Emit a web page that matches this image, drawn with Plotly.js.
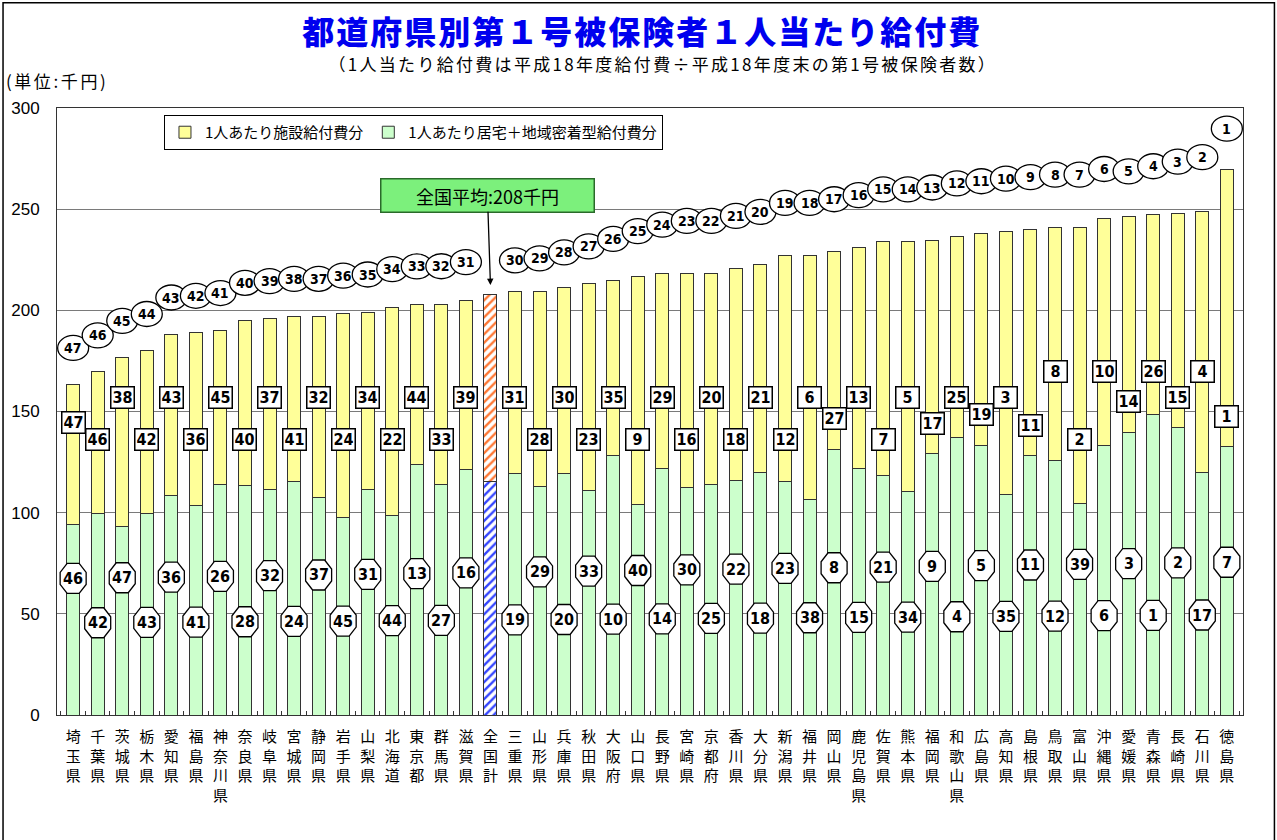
<!DOCTYPE html>
<html><head><meta charset="utf-8">
<script src="https://cdn.plot.ly/plotly-3.0.1.min.js"></script>
<style>
html,body{margin:0;padding:0;background:#fff}
#chart{width:1277px;height:840px}
#chart .gtitle{letter-spacing:2px}
#chart g.annotation[data-index="0"] text{letter-spacing:2.3px}
#chart g.annotation[data-index="1"] text{letter-spacing:2.6px}
</style>
</head><body><div id="chart"></div>
<script>
// ---------------- data ----------------
const categories = ['埼玉県','千葉県','茨城県','栃木県','愛知県','福島県','神奈川県','奈良県','岐阜県','宮城県','静岡県','岩手県','山梨県','北海道','東京都','群馬県','滋賀県','全国計','三重県','山形県','兵庫県','秋田県','大阪府','山口県','長野県','宮崎県','京都府','香川県','大分県','新潟県','福井県','岡山県','鹿児島県','佐賀県','熊本県','福岡県','和歌山県','広島県','高知県','島根県','鳥取県','富山県','沖縄県','愛媛県','青森県','長崎県','石川県','徳島県'];
// 1人あたり居宅＋地域密着型給付費分 (千円)
const homeCost = [94.4,99.6,93.0,99.4,108.5,103.3,114.0,113.5,111.3,115.4,107.7,97.5,111.5,98.8,123.9,113.8,121.4,115.6,119.4,113.1,119.2,110.8,128.3,104.0,121.9,112.5,114.1,116.0,119.8,115.5,106.4,131.3,121.6,118.5,110.5,129.3,137.2,133.4,109.0,128.1,125.9,104.6,133.2,139.7,148.7,142.1,119.9,132.6];
// 1人あたり施設給付費分 (千円)
const facilityCost = [69.0,70.0,83.7,80.6,79.6,85.6,76.2,81.7,84.7,81.6,89.3,101.0,87.5,102.8,79.0,89.1,83.5,92.4,89.8,96.1,91.9,102.3,86.6,112.9,96.3,105.7,104.1,104.7,102.9,111.6,120.7,97.6,109.3,115.3,123.3,105.4,99.5,104.4,130.1,111.7,115.2,136.5,112.4,106.5,98.5,105.9,128.8,137.2];
const totalRank = [47,46,45,44,43,42,41,40,39,38,37,36,35,34,33,32,31,null,30,29,28,27,26,25,24,23,22,21,20,19,18,17,16,15,14,13,12,11,10,9,8,7,6,5,4,3,2,1];
const facilityRank = [47,46,38,42,43,36,45,40,37,41,32,24,34,22,44,33,39,null,31,28,30,23,35,9,29,16,20,18,21,12,6,27,13,7,5,17,25,19,3,11,8,2,10,14,26,15,4,1];
const homeRank = [46,42,47,43,36,41,26,28,32,24,37,45,31,44,13,27,16,null,19,29,20,33,10,40,14,30,25,22,18,23,38,8,15,21,34,9,4,5,35,11,12,39,6,3,1,2,17,7];
const seriesNames = ['1人あたり施設給付費分', '1人あたり居宅＋地域密着型給付費分'];
const yTicks = [0, 50, 100, 150, 200, 250, 300];
const nationalName = '全国計';
const nationalNote = '全国平均:208千円';
const chartTitle = '都道府県別第１号被保険者１人当たり給付費';
const chartSubtitle = '（1人当たり給付費は平成18年度給付費÷平成18年度末の第1号被保険者数）';
const unitLabel = '(単位:千円)';

// ---------------- styling / layout ----------------
const xLabels = categories.map(c => c.split('').join('<br>'));
const natIdx = categories.indexOf(nationalName);
const n = categories.length;
const totals = categories.map((c, i) => homeCost[i] + facilityCost[i]);

const YELLOW = '#FFFF99', GREEN = '#CCFFCC';
const lineStyle = {color: '#333333', width: 1};
const notNat = (arr) => arr.map((v, i) => i === natIdx ? null : v);
const onlyNat = (arr) => arr.map((v, i) => i === natIdx ? v : null);

const greenTrace = {type: 'bar', name: seriesNames[1], x: xLabels, y: notNat(homeCost),
  marker: {color: GREEN, line: lineStyle}, hoverinfo: 'skip'};
const greenNat = {type: 'bar', name: seriesNames[1], x: xLabels, y: onlyNat(homeCost), showlegend: false,
  marker: {color: '#FFFFFF', line: lineStyle, pattern: {shape: '/', fgcolor: '#3344FF', bgcolor: '#FFFFFF', size: 6, solidity: 0.4}},
  hoverinfo: 'skip'};
const yellowTrace = {type: 'bar', name: seriesNames[0], x: xLabels, y: notNat(facilityCost),
  marker: {color: YELLOW, line: lineStyle}, hoverinfo: 'skip'};
const yellowNat = {type: 'bar', name: seriesNames[0], x: xLabels, y: onlyNat(facilityCost), showlegend: false,
  marker: {color: '#FFFFFF', line: lineStyle, pattern: {shape: '/', fgcolor: '#FF7733', bgcolor: '#FFFFFF', size: 6, solidity: 0.4}},
  hoverinfo: 'skip'};

const labelFont = {family: 'DejaVu Sans Condensed, Liberation Sans Narrow, Liberation Sans, sans-serif', size: 15, color: '#000', weight: 'bold'};
const shapes = [];
const annotations = [];

// subtitle and unit (kept first: indices 0 and 1)
annotations.push({xref: 'paper', yref: 'paper', x: 0.511, y: 1.0725, xanchor: 'center', yanchor: 'middle', showarrow: false,
  text: chartSubtitle, font: {family: 'Noto Sans CJK JP, sans-serif', size: 17, color: '#000'}});
annotations.push({xref: 'paper', yref: 'paper', x: -0.0371, y: 1.046, xanchor: 'left', yanchor: 'middle', showarrow: false,
  text: unitLabel, font: {family: 'Noto Sans CJK JP, sans-serif', size: 17, color: '#000'}});

// outer frame
shapes.push({type: 'rect', xref: 'paper', yref: 'paper', x0: -0.0455, x1: 1.0265, y0: -0.3, y1: 1.1735,
  line: {color: '#000', width: 1.5}, fillcolor: 'rgba(0,0,0,0)', layer: 'below'});

const octPath = 'M-13,-6 L-6,-15 L6,-15 L13,-6 L13,6 L6,15 L-6,15 L-13,6 Z';
// vertical offset (axis units) of the rank ellipses above the bar tops, by position
const ellipseOffsetCurve = [[0, 18], [17, 19], [18, 15.5], [21, 18.5], [25, 26], [41, 26], [43, 22.5], [46, 27], [47, 20]];
function curveAt(curve, i) {
  for (let k = 0; k < curve.length - 1; k++) {
    const [a, va] = curve[k], [b, vb] = curve[k + 1];
    if (i >= a && i <= b) return va + (vb - va) * (i - a) / (b - a);
  }
  return curve[curve.length - 1][1];
}

for (let i = 0; i < n; i++) {
  if (i === natIdx) continue;
  const t = i / (n - 1);
  // overall rank in ellipse above bar
  const ey = totals[i] + curveAt(ellipseOffsetCurve, i);
  shapes.push({type: 'circle', xref: 'x', yref: 'y', xsizemode: 'pixel', ysizemode: 'pixel',
    xanchor: i, yanchor: ey, x0: -15.5, x1: 15.5, y0: -12.5, y1: 12.5,
    line: {color: '#000', width: 1.3}, fillcolor: '#FFFFFF', layer: 'above'});
  annotations.push({x: i, y: ey, xref: 'x', yref: 'y', showarrow: false,
    text: String(totalRank[i]), font: Object.assign({}, labelFont, {size: 14})});

  // facility rank in rectangle (yellow part)
  const odd = (i % 2 === 0);
  const ry = odd ? Math.min(totals[i] - 19, i >= 40 ? 170 : 157) : Math.max(136, homeCost[i] + 15);
  annotations.push({x: i, y: ry, xref: 'x', yref: 'y', showarrow: false,
    text: String(facilityRank[i]), font: Object.assign({}, labelFont, {size: 16}),
    bgcolor: '#FFFFFF', bordercolor: '#000', borderwidth: 1.5, borderpad: 1, width: 20, height: 18});

  // home rank in octagon (green part)
  const upper = i < natIdx ? (i % 2 === 0) : (i % 2 === 1);
  const oy = upper ? (67.5 + 8 * t) : (45.5 + 4 * t);
  shapes.push({type: 'path', xref: 'x', yref: 'y', xsizemode: 'pixel', ysizemode: 'pixel',
    xanchor: i, yanchor: oy, path: octPath,
    line: {color: '#000', width: 1.3}, fillcolor: '#FFFFFF', layer: 'above'});
  annotations.push({x: i, y: oy, xref: 'x', yref: 'y', showarrow: false,
    text: String(homeRank[i]), font: Object.assign({}, labelFont, {size: 16})});
}

// national average callout
annotations.push({x: natIdx, y: totals[natIdx] + 4.5, xref: 'x', yref: 'y', showarrow: true,
  ax: -3, ay: -90, arrowhead: 2, arrowsize: 1, arrowwidth: 1.3, arrowcolor: '#000', standoff: 0,
  text: nationalNote, font: {family: 'Noto Sans CJK JP, sans-serif', size: 18, color: '#000'},
  bgcolor: '#7CF07C', bordercolor: '#2a6a2a', borderwidth: 1.5, width: 210, height: 30, borderpad: 1});

const layout = {
  width: 1277, height: 840,
  margin: {l: 57, r: 34, t: 108, b: 125},
  paper_bgcolor: '#FFFFFF', plot_bgcolor: '#FFFFFF',
  barmode: 'stack', bargap: 0.47,
  showlegend: true,
  title: {text: chartTitle, xref: 'container', yref: 'container', x: 0.503, y: 0.961,
    xanchor: 'center', yanchor: 'middle',
    font: {family: 'Noto Sans CJK JP, sans-serif', size: 32, color: '#0000EE', weight: 900}},
  legend: {orientation: 'h', x: 0.0902, y: 0.9885, xanchor: 'left', yanchor: 'top',
    traceorder: 'reversed',
    bgcolor: '#FFFFFF', bordercolor: '#000', borderwidth: 1,
    font: {family: 'Noto Sans CJK JP, sans-serif', size: 15, color: '#000'}, itemwidth: 30},
  xaxis: {type: 'category', showgrid: false, showline: true, mirror: true, linecolor: '#333', linewidth: 1,
    ticks: 'inside', tickson: 'boundaries', ticklen: 4, tickcolor: '#333',
    tickfont: {family: 'Noto Sans CJK JP, sans-serif', size: 15, color: '#000'},
    ticklabelstandoff: 8, tickangle: 0, fixedrange: true},
  yaxis: {range: [0, 300], tickmode: 'array', tickvals: yTicks, ticktext: yTicks.map(String),
    showgrid: true, gridcolor: '#7a7a7a', gridwidth: 1, zeroline: false,
    showline: true, mirror: true, linecolor: '#333', linewidth: 1, ticks: '',
    tickfont: {family: 'Liberation Sans Narrow, Liberation Sans, sans-serif', size: 17, color: '#000'},
    ticklabelstandoff: 13, fixedrange: true},
  shapes: shapes,
  annotations: annotations
};

Plotly.newPlot('chart', [greenTrace, greenNat, yellowTrace, yellowNat], layout, {displayModeBar: false, staticPlot: true});
</script>
</body></html>
